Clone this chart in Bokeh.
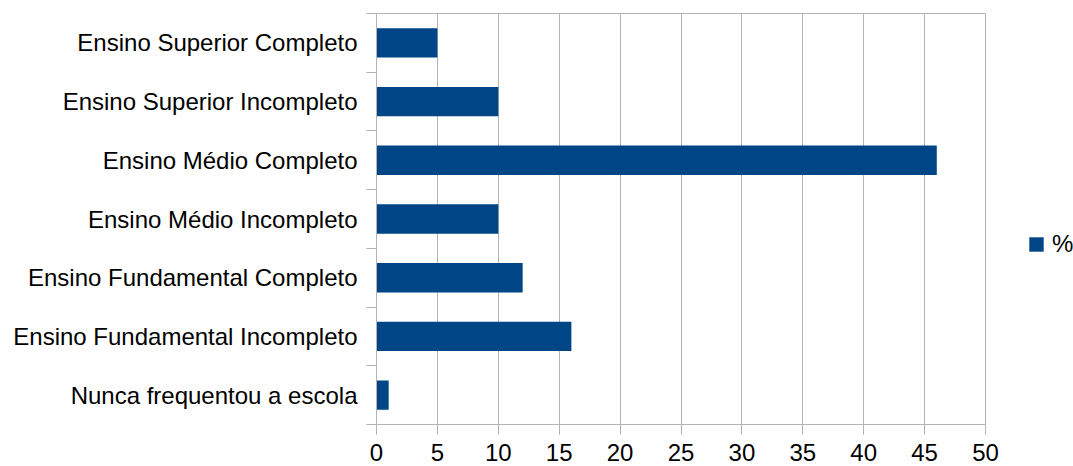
from bokeh.plotting import figure
from bokeh.layouts import row
from bokeh.models import Range1d, FixedTicker, Legend, LegendItem, ColumnDataSource
from bokeh.embed import file_html
from bokeh.resources import INLINE

categories = [
    "Nunca frequentou a escola",
    "Ensino Fundamental Incompleto",
    "Ensino Fundamental Completo",
    "Ensino Médio Incompleto",
    "Ensino Médio Completo",
    "Ensino Superior Incompleto",
    "Ensino Superior Completo",
]
values = [1, 16, 12, 10, 46, 10, 5]
x_ticks = [0, 5, 10, 15, 20, 25, 30, 35, 40, 45, 50]
series_name = "%"

FONT = "Liberation Sans"
GRAY = "#b3b3b3"
BAR = "#004586"

positions = [i + 0.5 for i in range(len(categories))]
src = ColumnDataSource(dict(y=positions, right=values, cat=categories))

p = figure(width=1000, height=466, output_backend="svg", toolbar_location=None,
           x_range=Range1d(0, 50), y_range=Range1d(0, len(categories)),
           min_border_left=376, min_border_right=15, min_border_top=13, min_border_bottom=42)
p.outline_line_color = GRAY
p.background_fill_color = "white"
p.border_fill_color = "white"

r = p.hbar(y="y", left=0, right="right", height=0.5, source=src,
           fill_color=BAR, line_color=None)

# x axis
xa = p.xaxis[0]
xa.ticker = FixedTicker(ticks=x_ticks)
xa.axis_line_color = GRAY
xa.major_tick_line_color = GRAY
xa.major_tick_out = 10
xa.major_tick_in = 0
xa.minor_tick_line_color = None
xa.major_label_text_font = FONT
xa.major_label_text_font_size = "24px"
xa.major_label_text_color = "black"
xa.major_label_standoff = 9

# y axis: labels at centers, ticks at boundaries
ya = p.yaxis[0]
ya.ticker = FixedTicker(ticks=positions, minor_ticks=list(range(len(categories) + 1)))
ya.major_label_overrides = {pos: c for pos, c in zip(positions, categories)}
ya.axis_line_color = GRAY
ya.major_tick_line_color = None
ya.major_tick_out = 0
ya.major_tick_in = 0
ya.minor_tick_line_color = GRAY
ya.minor_tick_out = 10
ya.minor_tick_in = 0
ya.major_label_text_font = FONT
ya.major_label_text_font_size = "24px"
ya.major_label_text_color = "black"
ya.major_label_standoff = 9

p.xgrid.grid_line_color = GRAY
p.xgrid.ticker = FixedTicker(ticks=x_ticks)
p.ygrid.grid_line_color = None

# legend panel
q = figure(width=73, height=466, output_backend="svg", toolbar_location=None,
           x_range=Range1d(0, 1), y_range=Range1d(0, 1),
           min_border=0, min_border_left=0, min_border_right=0,
           min_border_top=0, min_border_bottom=0)
q.axis.visible = False
q.grid.visible = False
q.outline_line_color = None
q.border_fill_color = "white"
q.background_fill_color = "white"
lr = q.hbar(y=[-5], left=0, right=[0], height=0.5, fill_color=BAR, line_color=None)
legend = Legend(items=[LegendItem(label=series_name, renderers=[lr], index=0)],
                location=(27, 166), orientation="vertical",
                glyph_width=18, glyph_height=18, label_standoff=7,
                label_text_font=FONT, label_text_font_size="24px",
                label_text_color="black",
                padding=0, margin=0, border_line_color=None,
                background_fill_alpha=0)
q.add_layout(legend, "center")

layout = row(p, q)
open("out.html", "w").write(file_html(layout, INLINE))
